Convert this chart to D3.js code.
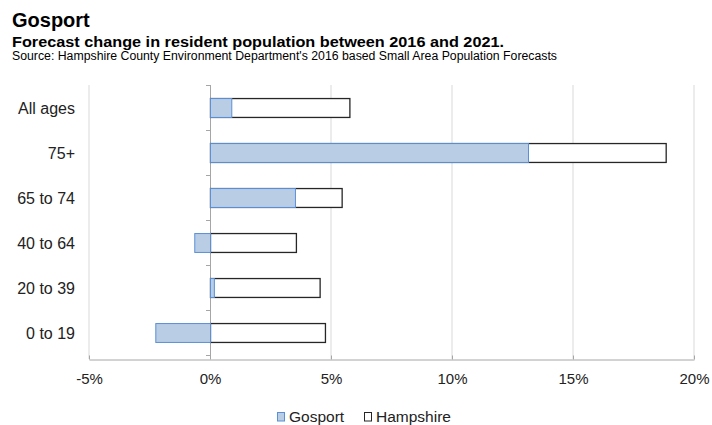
<!DOCTYPE html>
<html>
<head>
<meta charset="utf-8">
<script src="https://cdn.jsdelivr.net/npm/d3@7"></script>
<style>
  body { margin: 0; background: #fff; }
  svg { display: block; font-family: "Liberation Sans", Arial, sans-serif; }
</style>
</head>
<body>
<svg id="chart" width="712" height="425"></svg>
<script>
// Age bands, top to bottom
const categories = ["All ages", "75+", "65 to 74", "40 to 64", "20 to 39", "0 to 19"];
// Forecast % change 2016–2021
const gosport   = [0.88, 13.14, 3.51, -0.65, 0.16, -2.26];
const hampshire = [5.76, 18.83, 5.44, 3.55, 4.53, 4.75];
const xTicks = [-5, 0, 5, 10, 15, 20];
const seriesNames = ["Gosport", "Hampshire"];

const svg = d3.select("#chart");
const plotTop = 85, axisY = 359;

const x = d3.scaleLinear().domain([-5, 20]).range([89, 694]);
const y = d3.scaleBand().domain(categories).range([plotTop, plotTop + 270]).paddingInner(0.58).paddingOuter(0.29);

// Titles
svg.append("text").attr("x", 12).attr("y", 27.3).attr("font-size", 20).attr("font-weight", "bold").attr("fill", "#000").text("Gosport");
svg.append("text").attr("x", 12).attr("y", 46.7).attr("font-size", 14.5).attr("font-weight", "bold").attr("fill", "#000")
  .attr("textLength", 492).attr("lengthAdjust", "spacingAndGlyphs")
  .text("Forecast change in resident population between 2016 and 2021.");
svg.append("text").attr("x", 12).attr("y", 60).attr("font-size", 12.5).attr("fill", "#000")
  .attr("textLength", 545).attr("lengthAdjust", "spacingAndGlyphs")
  .text("Source: Hampshire County Environment Department's 2016 based Small Area Population Forecasts");

// Vertical gridlines
svg.append("g").selectAll("line").data(xTicks.filter(d => d !== 0)).join("line")
  .attr("x1", d => x(d)).attr("x2", d => x(d))
  .attr("y1", plotTop).attr("y2", axisY)
  .attr("stroke", "#d9d9d9").attr("stroke-width", 1);

// Bottom axis
const xAxis = d3.axisBottom(x).tickValues(xTicks).tickFormat(d => d + "%").tickSize(0).tickPadding(14);
const gx = svg.append("g").attr("transform", `translate(0,${axisY + 0.5})`).call(xAxis);
gx.select(".domain").attr("stroke", "#a6a6a6");
gx.selectAll("text").attr("font-size", 15).attr("fill", "#222").attr("font-family", "Liberation Sans, Arial, sans-serif");
gx.selectAll(".tick").append("line").attr("y1", -4).attr("y2", 0).attr("stroke", "#a6a6a6");

// Category axis at zero
const bandEdges = d3.range(categories.length + 1).map(i => plotTop + i * 45);
svg.append("line").attr("x1", x(0) + 0.5).attr("x2", x(0) + 0.5).attr("y1", plotTop).attr("y2", axisY)
  .attr("stroke", "#a6a6a6");
svg.append("g").selectAll("line").data(bandEdges).join("line")
  .attr("x1", x(0) - 4).attr("x2", x(0) + 0.5)
  .attr("y1", d => d + 0.5).attr("y2", d => d + 0.5)
  .attr("stroke", "#a6a6a6");

// Category labels
svg.append("g").selectAll("text").data(categories).join("text")
  .attr("x", 75).attr("y", d => y(d) + y.bandwidth() / 2 + 1)
  .attr("dy", "0.35em").attr("text-anchor", "end")
  .attr("font-size", 16).attr("fill", "#222").text(d => d);

// Hampshire bars (outline)
svg.append("g").selectAll("rect").data(categories).join("rect")
  .attr("x", (d, i) => x(Math.min(0, hampshire[i])) + 0.5)
  .attr("y", d => y(d) + 0.5)
  .attr("width", (d, i) => Math.abs(x(hampshire[i]) - x(0)))
  .attr("height", y.bandwidth())
  .attr("fill", "#fff").attr("stroke", "#262626").attr("stroke-width", 1.3);

// Gosport bars
svg.append("g").selectAll("rect").data(categories).join("rect")
  .attr("x", (d, i) => x(Math.min(0, gosport[i])) + 0.5)
  .attr("y", d => y(d) + 0.5)
  .attr("width", (d, i) => Math.abs(x(gosport[i]) - x(0)))
  .attr("height", y.bandwidth())
  .attr("fill", "#b9cde5").attr("stroke", "#5b8fd6").attr("stroke-width", 1);

// Legend
const legend = svg.append("g");
const legendItems = [
  { name: seriesNames[0], x: 277, fill: "#b9cde5", stroke: "#5b8fd6" },
  { name: seriesNames[1], x: 364, fill: "#fff", stroke: "#262626" }
];
legendItems.forEach(it => {
  legend.append("rect").attr("x", it.x + 0.5).attr("y", 412.5).attr("width", 7).attr("height", 8.5)
    .attr("fill", it.fill).attr("stroke", it.stroke);
  legend.append("text").attr("x", it.x + 12).attr("y", 421.5).attr("font-size", 15.5).attr("fill", "#222").text(it.name);
});
</script>
</body>
</html>
